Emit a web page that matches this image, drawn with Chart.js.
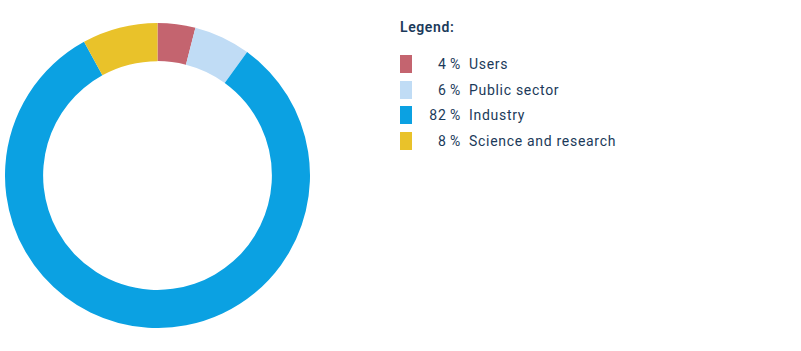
<!DOCTYPE html>
<html>
<head>
<meta charset="utf-8">
<script src="https://cdn.jsdelivr.net/npm/chart.js@4/dist/chart.umd.min.js"></script>
<style>
    body { margin: 0; background: #fff; font-family: Roboto, "Open Sans", sans-serif; }
    #wrap { position: relative; width: 801px; height: 351px; }
    #chartBox { position: absolute; left: 5px; top: 23px; }
    #legend { position: absolute; left: 400px; top: 19px; color: #1b3a5a; font-size: 14px; letter-spacing: 0.7px; }
    #legend .title { font-weight: 600; margin-bottom: 16px; letter-spacing: 0.6px; }
    #legend .row { display: flex; align-items: center; height: 25.7px; }
    #legend .box { width: 12px; height: 18px; margin-right: 4px; }
    #legend .pct { width: 45px; text-align: right; margin-right: 8px; }
</style>
</head>
<body>
<div id="wrap">
    <div id="chartBox"><canvas id="donut" width="305" height="305"></canvas></div>
    <div id="legend"></div>
</div>
<script>
const labels = ['Users', 'Public sector', 'Industry', 'Science and research'];
const shares = [4, 6, 82, 8];
const colors = ['#c4646f', '#c0dcf5', '#0ba1e2', '#e9c22a'];

document.addEventListener('DOMContentLoaded', function () {
    var ctx = document.getElementById('donut').getContext('2d');
    var donut = new Chart(ctx, {
        type: 'doughnut',
        data: {
            labels: labels,
            datasets: [{
                data: shares,
                backgroundColor: colors,
                borderWidth: 0
            }]
        },
        options: {
            responsive: false,
            animation: false,
            cutout: '75%',
            plugins: {
                legend: { display: false },
                tooltip: { enabled: false }
            }
        }
    });

    var legend = document.getElementById('legend');
    var html = '<div class="title">Legend:</div>';
    labels.forEach((label, i) => {
        html += `<div class="row"><span class="box" style="background:${colors[i]}"></span>` +
            `<span class="pct">${shares[i]}&thinsp;%</span><span>${label}</span></div>`;
    });
    legend.innerHTML = html;
});
</script>
</body>
</html>
